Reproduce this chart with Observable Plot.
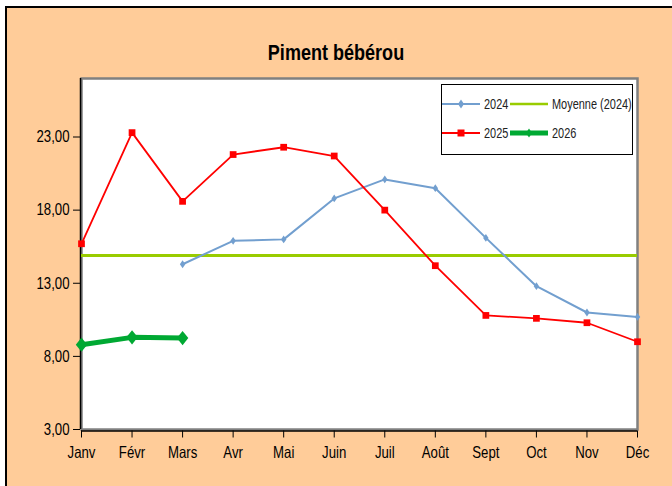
<!DOCTYPE html>
<html>
<head>
<meta charset="utf-8">
<script src="https://cdn.jsdelivr.net/npm/d3@7"></script>
<script src="https://cdn.jsdelivr.net/npm/@observablehq/plot@0.6"></script>
<style>
  html, body { margin: 0; padding: 0; background: #fff; }
  #wrap { position: relative; width: 672px; height: 486px; overflow: hidden; background: #fff;
          font-family: "Liberation Sans", Arial, sans-serif; }
  #bg { position: absolute; left: 5px; top: 6px; width: 720px; height: 520px; background: #FFCC99;
        border-top: 2px solid #000; border-left: 2px solid #000; }
  #chart { position: absolute; left: 0; top: 0; }
  #title { position: absolute; left: 0; width: 672px; top: 42px; text-align: center;
           font-size: 22px; line-height: 22px; font-weight: bold; color: #000;
           transform: scaleX(0.82); transform-origin: 336px 0; }
  #legend { position: absolute; left: 441px; top: 84px; width: 190px; height: 69px;
            background: #fff; border: 1.5px solid #000; }
  #legend svg { display: block; }
  #legend text { font-family: "Liberation Sans", Arial, sans-serif; font-size: 15px; fill: #222; }
</style>
</head>
<body>
<div id="wrap">
  <div id="bg"></div>
  <div id="chart"></div>
  <div id="title">Piment bébérou</div>
  <div id="legend"></div>
</div>
<script>
// ---- data ----
const months = ["Janv", "Févr", "Mars", "Avr", "Mai", "Juin", "Juil", "Août", "Sept", "Oct", "Nov", "Déc"];
const values2024 = [null, null, 14.3, 15.9, 16.0, 18.8, 20.1, 19.5, 16.1, 12.8, 11.0, 10.7];
const values2025 = [15.7, 23.3, 18.6, 21.8, 22.3, 21.7, 18.0, 14.2, 10.8, 10.6, 10.3, 9.0];
const values2026 = [8.8, 9.3, 9.25, null, null, null, null, null, null, null, null, null];
const moyenne2024 = 14.9;
const yTicks = [3, 8, 13, 18, 23];
const yDomain = [3, 27];
const seriesNames = ["2024", "Moyenne (2024)", "2025", "2026"];

// ---- styles ----
const C2024 = "#729FCF", C2025 = "#FF0000", C2026 = "#00A933", CMOY = "#99CC00";

function rows(vals) {
  return months.map((m, i) => ({month: m, value: vals[i]})).filter(d => d.value != null);
}
function diamond(ratio) {
  return {
    draw(ctx, size) {
      const h = Math.sqrt(size / (2 * ratio));
      const w = h * ratio;
      ctx.moveTo(0, -h); ctx.lineTo(w, 0); ctx.lineTo(0, h); ctx.lineTo(-w, 0); ctx.closePath();
    }
  };
}
const fmt = d => d.toFixed(2).replace(".", ",");
const FONT = '"Liberation Sans", Arial, sans-serif';

const d2024 = rows(values2024), d2025 = rows(values2025), d2026 = rows(values2026);

const chart = Plot.plot({
  width: 672,
  height: 486,
  marginLeft: 81,
  marginRight: 35,
  marginTop: 78,
  marginBottom: 57,
  style: {background: "transparent", fontFamily: FONT, color: "#000"},
  x: {type: "point", domain: months, padding: 0, round: false, label: null},
  y: {domain: yDomain, label: null},
  marks: [
    Plot.frame({fill: "white", stroke: "#808080", strokeWidth: 2.5}),
    Plot.ruleX([months[0]], {stroke: "#000", strokeWidth: 1.5, dx: -1}),
    Plot.ruleY([yDomain[0]], {stroke: "#000", strokeWidth: 1.5, dy: 1.5}),
    Plot.axisY({ticks: yTicks, tickFormat: fmt, tickSize: 7, tickPadding: 4, fontSize: 16.5, label: null, stroke: "#000", dx: -1}),
    Plot.axisX({tickSize: 7, tickPadding: 8, fontSize: 16.5, label: null, stroke: "#000", dy: 1.5}),
    Plot.ruleY([moyenne2024], {stroke: CMOY, strokeWidth: 3}),
    Plot.line(d2024, {x: "month", y: "value", stroke: C2024, strokeWidth: 2}),
    Plot.dot(d2024, {x: "month", y: "value", symbol: diamond(0.7), r: 2.6, fill: C2024, stroke: "none"}),
    Plot.line(d2025, {x: "month", y: "value", stroke: C2025, strokeWidth: 1.8}),
    Plot.dot(d2025, {x: "month", y: "value", symbol: "square", r: 3.8, fill: C2025, stroke: "none"}),
    Plot.line(d2026, {x: "month", y: "value", stroke: C2026, strokeWidth: 5}),
    Plot.dot(d2026, {x: "month", y: "value", symbol: diamond(0.8), r: 5.1, fill: C2026, stroke: "none"})
  ]
});
document.getElementById("chart").appendChild(chart);

// condense tick labels horizontally (narrow font look) without moving them
function narrow(el, s) {
  const len = el.getComputedTextLength();
  if (len > 0) {
    el.setAttribute("textLength", (len * s).toFixed(2));
    el.setAttribute("lengthAdjust", "spacingAndGlyphs");
  }
}
chart.querySelectorAll('g[aria-label="y-axis tick label"] text').forEach(el => narrow(el, 0.8));
chart.querySelectorAll('g[aria-label="x-axis tick label"] text').forEach(el => narrow(el, 0.8));

// ---- legend ----
const lsvg = d3.select("#legend").append("svg").attr("width", 190).attr("height", 69);
const items = [
  {name: seriesNames[0], color: C2024, sw: 2, mark: "d1", col: 0, row: 0},
  {name: seriesNames[1], color: CMOY, sw: 2.5, mark: null, col: 1, row: 0},
  {name: seriesNames[2], color: C2025, sw: 2, mark: "sq", col: 0, row: 1},
  {name: seriesNames[3], color: C2026, sw: 5, mark: "d2", col: 1, row: 1}
];
items.forEach(it => {
  const x0 = it.col === 0 ? 0 : 68, y0 = it.row === 0 ? 19 : 48;
  const g = lsvg.append("g");
  g.append("line").attr("x1", x0).attr("x2", x0 + 38).attr("y1", y0).attr("y2", y0)
    .attr("stroke", it.color).attr("stroke-width", it.sw);
  const cx = x0 + 19;
  if (it.mark === "d1" || it.mark === "d2") g.append("path").attr("d", `M${cx},${y0-4.5}L${cx+3},${y0}L${cx},${y0+4.5}L${cx-3},${y0}Z`).attr("fill", it.color);
  if (it.mark === "sq") g.append("rect").attr("x", cx - 3.5).attr("y", y0 - 3.5).attr("width", 7).attr("height", 7).attr("fill", it.color);
  g.append("text").attr("transform", `translate(${x0 + 42},${y0}) scale(0.73,1)`).attr("dy", "0.35em").text(it.name);
});
</script>
</body>
</html>
